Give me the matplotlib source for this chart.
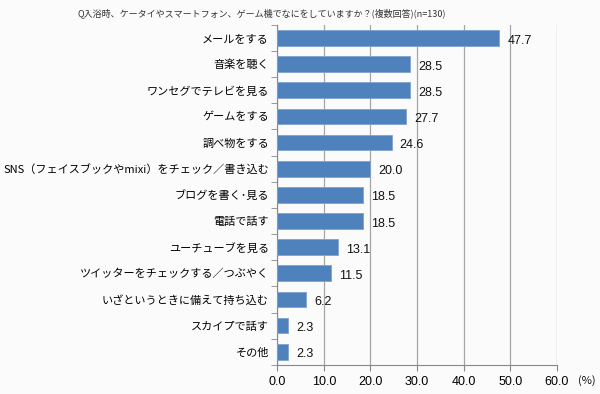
import matplotlib
matplotlib.use("Agg")
import matplotlib.pyplot as plt
import numpy as np

plt.rcParams["font.family"] = ["Noto Sans CJK JP", "DejaVu Sans"]

labels = ["メールをする", "音楽を聴く", "ワンセグでテレビを見る", "ゲームをする", "調べ物をする",
          "SNS（フェイスブックやmixi）をチェック／書き込む", "ブログを書く･見る", "電話で話す",
          "ユーチューブを見る", "ツイッターをチェックする／つぶやく", "いざというときに備えて持ち込む",
          "スカイプで話す", "その他"]
values = [47.7, 28.5, 28.5, 27.7, 24.6, 20.0, 18.5, 18.5, 13.1, 11.5, 6.2, 2.3, 2.3]
xticks = [0, 10, 20, 30, 40, 50, 60]
title = "Q入浴時、ケータイやスマートフォン、ゲーム機でなにをしていますか？(複数回答)(n=130)"

fig = plt.figure(figsize=(6, 3.94), dpi=100, facecolor="#fbfbfb")
ax = fig.add_axes([0.462, 0.074, 0.466, 0.863])
ax.set_facecolor("#fbfbfb")

y = np.arange(len(labels))
ax.barh(y, values, height=0.6, color="#4f81bd", edgecolor="#7ea3d0", linewidth=0.6, zorder=3)
for yi, v in zip(y, values):
    ax.text(v + 1.7, yi + 0.1, f"{v:.1f}", va="center", ha="left", fontsize=9, color="#111111",
            family=["Liberation Sans"], zorder=4)

ax.set_xlim(0, 60)
ax.set_ylim(len(labels) - 0.5, -0.5)
ax.set_xticks(xticks)
ax.set_xticklabels([f"{t:.1f}" for t in xticks], fontsize=9, family=["Liberation Sans"])
ax.set_yticks(y)
ax.set_yticklabels(labels, fontsize=8)
ax.set_yticks(np.arange(len(labels) + 1) - 0.5, minor=True)
ax.tick_params(axis="y", which="major", length=0, pad=6)
ax.tick_params(axis="y", which="minor", length=4, color="#888888")
ax.tick_params(axis="x", length=4, color="#888888", pad=4)
ax.grid(axis="x", color="#a6a6a6", lw=0.9, zorder=0)
for s in ["top", "right"]:
    ax.spines[s].set_visible(False)
ax.spines["left"].set_color("#888888")
ax.spines["bottom"].set_color("#888888")

fig.text(0.437, 0.967, title, ha="center", va="center", fontsize=6.5, color="#333333")
fig.text(0.963, 0.033, "(%)", ha="left", va="center", fontsize=8, color="#111111")

fig.savefig("out.png", dpi=100, facecolor=fig.get_facecolor())
